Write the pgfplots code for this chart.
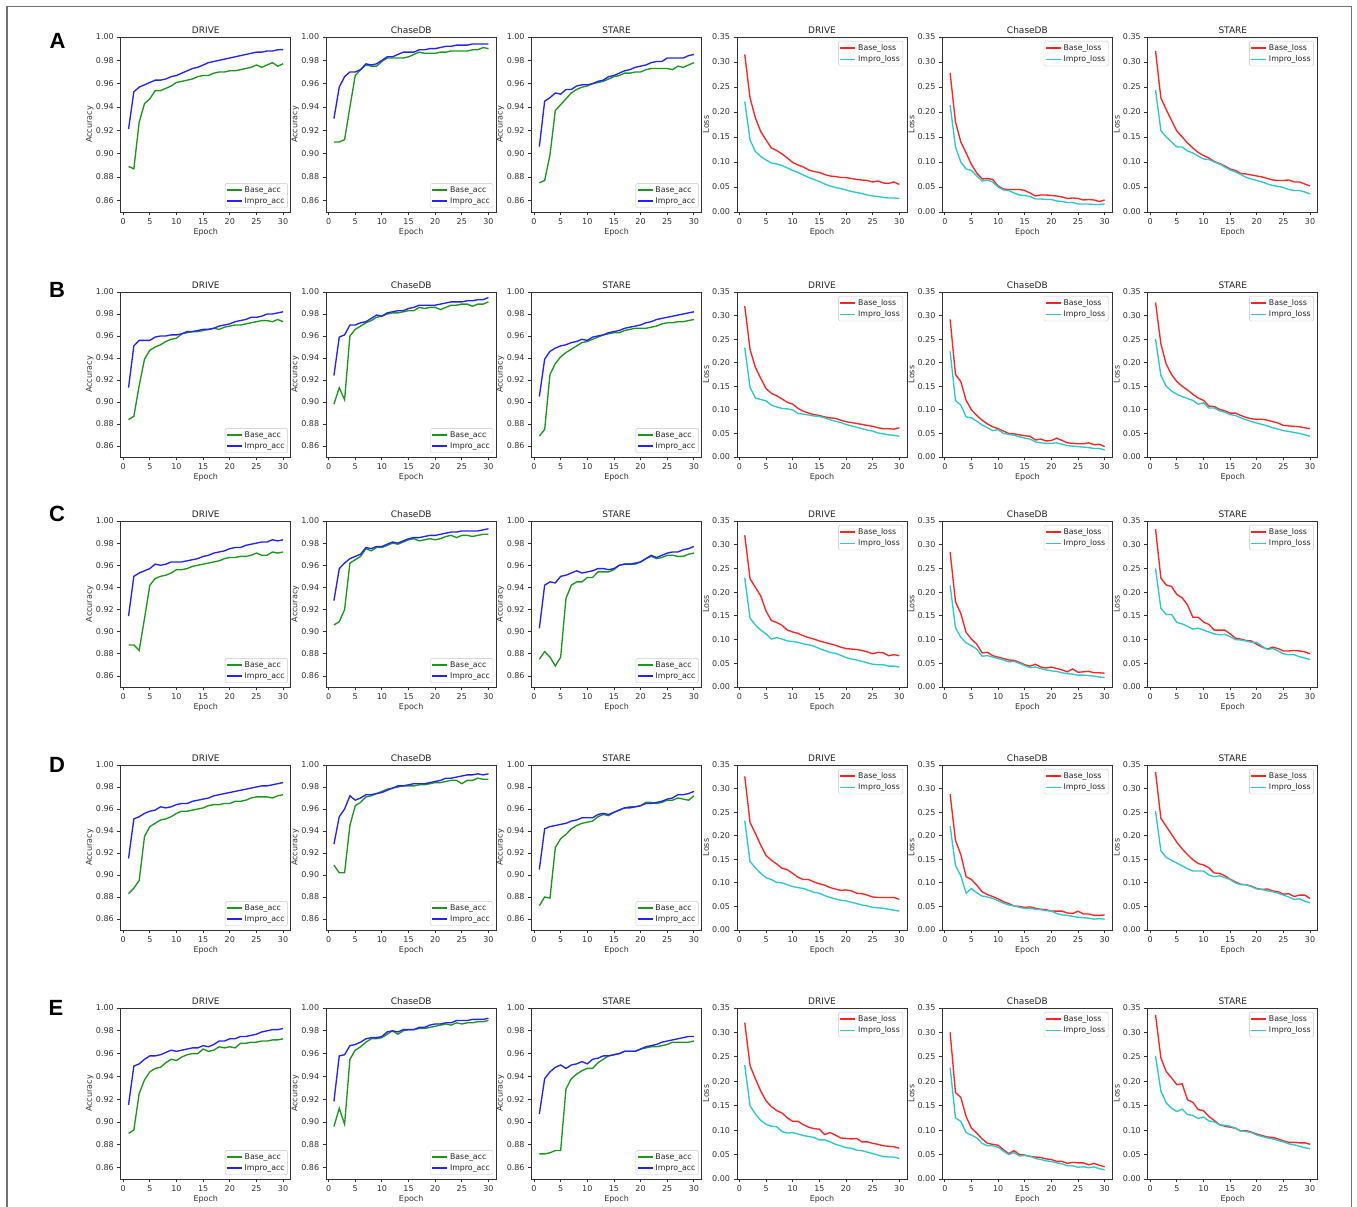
\documentclass[border=0pt]{standalone}
\usepackage{fontspec}
\setmainfont{DejaVu Sans}
\newfontfamily\letterfont{Liberation Sans}
\usepackage{pgfplots}
\usepackage{pgfplotstable}
\pgfplotsset{compat=1.18}

\definecolor{cgreen}{RGB}{30,150,30}
\definecolor{cblue}{RGB}{35,35,255}
\definecolor{cred}{RGB}{255,35,35}
\definecolor{ccyan}{RGB}{45,200,205}

% Columns: e, DRIVE base/impro, ChaseDB base/impro, STARE base/impro
\pgfplotstableread{
e Db Di Cb Ci Sb Si
1 0.889 0.921 0.910 0.930 0.875 0.906
2 0.887 0.953 0.910 0.957 0.877 0.945
3 0.927 0.957 0.912 0.966 0.899 0.948
4 0.943 0.959 0.940 0.970 0.937 0.952
5 0.947 0.961 0.967 0.970 0.942 0.951
6 0.954 0.963 0.972 0.972 0.947 0.955
7 0.954 0.963 0.976 0.977 0.952 0.955
8 0.956 0.964 0.975 0.976 0.955 0.958
9 0.958 0.966 0.975 0.977 0.957 0.959
10 0.961 0.967 0.979 0.980 0.958 0.959
11 0.962 0.969 0.982 0.983 0.960 0.960
12 0.963 0.971 0.982 0.983 0.961 0.962
13 0.964 0.973 0.982 0.985 0.962 0.963
14 0.966 0.974 0.982 0.987 0.964 0.966
15 0.967 0.976 0.983 0.987 0.966 0.967
16 0.967 0.978 0.985 0.987 0.967 0.969
17 0.969 0.979 0.987 0.989 0.969 0.971
18 0.970 0.980 0.986 0.989 0.969 0.972
19 0.970 0.981 0.986 0.990 0.970 0.974
20 0.971 0.982 0.986 0.990 0.970 0.975
21 0.971 0.983 0.987 0.991 0.972 0.976
22 0.972 0.984 0.987 0.992 0.973 0.978
23 0.973 0.985 0.988 0.992 0.973 0.979
24 0.974 0.986 0.988 0.993 0.973 0.979
25 0.976 0.987 0.988 0.993 0.973 0.982
26 0.974 0.987 0.988 0.993 0.972 0.982
27 0.976 0.988 0.989 0.994 0.975 0.982
28 0.978 0.988 0.989 0.994 0.974 0.982
29 0.975 0.989 0.991 0.994 0.976 0.984
30 0.977 0.989 0.990 0.994 0.978 0.985
}\accA
\pgfplotstableread{
e Db Di Cb Ci Sb Si
1 0.315 0.221 0.278 0.214 0.322 0.244
2 0.228 0.144 0.180 0.130 0.228 0.163
3 0.188 0.121 0.140 0.100 0.205 0.150
4 0.161 0.111 0.118 0.086 0.183 0.140
5 0.144 0.104 0.095 0.083 0.162 0.130
6 0.128 0.098 0.078 0.072 0.150 0.130
7 0.123 0.096 0.066 0.062 0.138 0.122
8 0.116 0.093 0.067 0.064 0.128 0.118
9 0.108 0.088 0.065 0.060 0.119 0.112
10 0.099 0.083 0.052 0.050 0.113 0.106
11 0.094 0.079 0.046 0.044 0.108 0.105
12 0.090 0.074 0.045 0.043 0.101 0.100
13 0.084 0.069 0.045 0.038 0.097 0.096
14 0.081 0.065 0.045 0.034 0.092 0.090
15 0.079 0.061 0.043 0.033 0.086 0.084
16 0.075 0.056 0.038 0.031 0.083 0.080
17 0.072 0.052 0.032 0.026 0.077 0.075
18 0.071 0.049 0.034 0.026 0.076 0.069
19 0.069 0.047 0.034 0.025 0.074 0.066
20 0.069 0.044 0.033 0.025 0.072 0.063
21 0.067 0.041 0.032 0.022 0.070 0.060
22 0.065 0.039 0.030 0.021 0.067 0.056
23 0.064 0.037 0.027 0.019 0.064 0.053
24 0.063 0.034 0.028 0.019 0.063 0.051
25 0.060 0.032 0.027 0.016 0.063 0.049
26 0.062 0.031 0.024 0.016 0.064 0.045
27 0.058 0.029 0.025 0.016 0.060 0.043
28 0.057 0.028 0.024 0.015 0.060 0.043
29 0.060 0.028 0.021 0.015 0.056 0.040
30 0.055 0.027 0.024 0.016 0.052 0.036
}\lossA
\pgfplotstableread{
e Db Di Cb Ci Sb Si
1 0.884 0.913 0.898 0.924 0.869 0.905
2 0.887 0.951 0.913 0.959 0.875 0.939
3 0.915 0.956 0.902 0.961 0.925 0.946
4 0.939 0.956 0.960 0.970 0.935 0.949
5 0.947 0.956 0.966 0.970 0.941 0.951
6 0.950 0.959 0.969 0.972 0.945 0.952
7 0.952 0.960 0.972 0.973 0.948 0.954
8 0.955 0.960 0.974 0.976 0.951 0.955
9 0.957 0.961 0.977 0.979 0.954 0.957
10 0.958 0.961 0.978 0.978 0.955 0.956
11 0.962 0.962 0.980 0.981 0.957 0.959
12 0.963 0.964 0.981 0.982 0.959 0.960
13 0.964 0.964 0.981 0.983 0.961 0.961
14 0.964 0.965 0.982 0.983 0.962 0.963
15 0.965 0.966 0.983 0.985 0.963 0.964
16 0.966 0.966 0.983 0.986 0.963 0.965
17 0.967 0.967 0.986 0.988 0.965 0.967
18 0.966 0.969 0.985 0.988 0.966 0.968
19 0.968 0.970 0.986 0.988 0.967 0.969
20 0.969 0.971 0.986 0.988 0.967 0.970
21 0.970 0.973 0.984 0.989 0.967 0.972
22 0.970 0.974 0.986 0.990 0.968 0.973
23 0.971 0.975 0.988 0.991 0.969 0.975
24 0.972 0.977 0.988 0.991 0.971 0.976
25 0.973 0.977 0.989 0.991 0.972 0.977
26 0.974 0.978 0.989 0.992 0.972 0.978
27 0.974 0.980 0.987 0.992 0.973 0.979
28 0.973 0.980 0.989 0.993 0.973 0.980
29 0.975 0.981 0.989 0.993 0.974 0.981
30 0.973 0.982 0.991 0.995 0.975 0.982
}\accB
\pgfplotstableread{
e Db Di Cb Ci Sb Si
1 0.320 0.232 0.292 0.224 0.328 0.250
2 0.228 0.148 0.175 0.120 0.240 0.173
3 0.190 0.125 0.160 0.110 0.197 0.150
4 0.167 0.122 0.120 0.085 0.175 0.140
5 0.145 0.119 0.100 0.083 0.160 0.133
6 0.135 0.110 0.088 0.076 0.150 0.128
7 0.130 0.106 0.078 0.068 0.142 0.124
8 0.123 0.103 0.070 0.062 0.133 0.120
9 0.116 0.102 0.064 0.056 0.125 0.112
10 0.112 0.100 0.060 0.058 0.120 0.115
11 0.103 0.092 0.055 0.050 0.108 0.104
12 0.097 0.091 0.050 0.048 0.107 0.104
13 0.093 0.089 0.049 0.046 0.101 0.098
14 0.090 0.087 0.047 0.043 0.098 0.095
15 0.088 0.086 0.045 0.040 0.093 0.090
16 0.085 0.083 0.044 0.038 0.093 0.088
17 0.083 0.079 0.036 0.032 0.088 0.083
18 0.082 0.076 0.038 0.030 0.084 0.079
19 0.078 0.073 0.034 0.029 0.081 0.075
20 0.075 0.069 0.035 0.029 0.080 0.072
21 0.073 0.066 0.040 0.030 0.080 0.069
22 0.071 0.063 0.035 0.027 0.078 0.066
23 0.069 0.060 0.030 0.024 0.075 0.062
24 0.067 0.057 0.029 0.023 0.072 0.059
25 0.065 0.055 0.028 0.022 0.067 0.056
26 0.062 0.051 0.028 0.021 0.066 0.054
27 0.060 0.049 0.030 0.020 0.065 0.052
28 0.060 0.047 0.026 0.018 0.064 0.050
29 0.059 0.046 0.027 0.018 0.062 0.047
30 0.062 0.044 0.022 0.015 0.060 0.044
}\lossB
\pgfplotstableread{
e Db Di Cb Ci Sb Si
1 0.888 0.914 0.906 0.928 0.875 0.903
2 0.888 0.950 0.909 0.957 0.882 0.942
3 0.883 0.953 0.920 0.962 0.877 0.945
4 0.912 0.955 0.962 0.966 0.869 0.944
5 0.942 0.957 0.965 0.968 0.877 0.950
6 0.948 0.961 0.968 0.970 0.930 0.951
7 0.950 0.960 0.975 0.976 0.942 0.953
8 0.951 0.961 0.973 0.975 0.945 0.955
9 0.953 0.963 0.976 0.977 0.945 0.953
10 0.956 0.963 0.976 0.977 0.949 0.954
11 0.956 0.963 0.978 0.979 0.949 0.955
12 0.957 0.964 0.980 0.981 0.954 0.957
13 0.959 0.965 0.979 0.980 0.954 0.957
14 0.960 0.966 0.981 0.982 0.954 0.956
15 0.961 0.968 0.983 0.984 0.956 0.957
16 0.962 0.969 0.984 0.985 0.960 0.960
17 0.963 0.971 0.982 0.985 0.961 0.961
18 0.964 0.972 0.983 0.986 0.961 0.961
19 0.966 0.973 0.984 0.987 0.961 0.962
20 0.967 0.975 0.983 0.987 0.963 0.963
21 0.967 0.976 0.984 0.988 0.966 0.966
22 0.968 0.976 0.986 0.989 0.968 0.969
23 0.968 0.978 0.987 0.990 0.966 0.967
24 0.969 0.979 0.985 0.990 0.967 0.969
25 0.971 0.980 0.987 0.991 0.969 0.971
26 0.969 0.981 0.987 0.991 0.969 0.972
27 0.969 0.981 0.986 0.991 0.968 0.972
28 0.972 0.983 0.987 0.991 0.968 0.974
29 0.971 0.982 0.988 0.992 0.970 0.975
30 0.972 0.983 0.988 0.993 0.971 0.977
}\accC
\pgfplotstableread{
e Db Di Cb Ci Sb Si
1 0.320 0.230 0.285 0.214 0.333 0.250
2 0.228 0.145 0.180 0.125 0.230 0.166
3 0.210 0.131 0.155 0.105 0.215 0.153
4 0.192 0.120 0.115 0.093 0.212 0.153
5 0.160 0.112 0.101 0.087 0.195 0.136
6 0.140 0.101 0.090 0.080 0.188 0.133
7 0.136 0.104 0.072 0.065 0.173 0.128
8 0.130 0.101 0.073 0.066 0.147 0.122
9 0.120 0.097 0.066 0.063 0.147 0.124
10 0.116 0.096 0.063 0.060 0.137 0.120
11 0.113 0.094 0.060 0.057 0.132 0.116
12 0.108 0.091 0.057 0.053 0.120 0.112
13 0.104 0.089 0.056 0.054 0.120 0.110
14 0.101 0.086 0.052 0.050 0.120 0.111
15 0.097 0.081 0.047 0.045 0.112 0.106
16 0.094 0.077 0.044 0.041 0.103 0.100
17 0.091 0.073 0.048 0.042 0.101 0.099
18 0.088 0.071 0.042 0.039 0.098 0.097
19 0.084 0.067 0.040 0.036 0.097 0.094
20 0.081 0.062 0.042 0.034 0.090 0.094
21 0.080 0.059 0.039 0.033 0.084 0.086
22 0.079 0.057 0.036 0.030 0.080 0.079
23 0.077 0.054 0.032 0.028 0.084 0.081
24 0.074 0.051 0.038 0.027 0.081 0.076
25 0.070 0.048 0.031 0.025 0.076 0.070
26 0.073 0.047 0.032 0.025 0.076 0.068
27 0.072 0.047 0.033 0.024 0.077 0.068
28 0.066 0.044 0.030 0.023 0.076 0.064
29 0.068 0.044 0.030 0.021 0.074 0.061
30 0.066 0.042 0.029 0.020 0.070 0.058
}\lossC
\pgfplotstableread{
e Db Di Cb Ci Sb Si
1 0.883 0.915 0.909 0.928 0.872 0.905
2 0.888 0.951 0.902 0.953 0.880 0.942
3 0.895 0.953 0.902 0.960 0.879 0.944
4 0.935 0.956 0.945 0.972 0.925 0.945
5 0.944 0.958 0.963 0.968 0.933 0.946
6 0.947 0.959 0.966 0.970 0.937 0.947
7 0.950 0.962 0.971 0.973 0.942 0.949
8 0.951 0.961 0.972 0.973 0.945 0.950
9 0.953 0.962 0.974 0.974 0.947 0.952
10 0.956 0.964 0.976 0.975 0.948 0.952
11 0.958 0.965 0.978 0.977 0.949 0.952
12 0.958 0.965 0.979 0.979 0.953 0.955
13 0.959 0.967 0.980 0.981 0.955 0.956
14 0.960 0.968 0.981 0.981 0.954 0.955
15 0.961 0.969 0.981 0.982 0.957 0.957
16 0.963 0.970 0.981 0.983 0.959 0.959
17 0.964 0.972 0.982 0.983 0.961 0.961
18 0.964 0.973 0.982 0.983 0.962 0.961
19 0.965 0.974 0.983 0.984 0.962 0.962
20 0.965 0.975 0.984 0.985 0.963 0.963
21 0.967 0.976 0.984 0.986 0.966 0.965
22 0.967 0.977 0.985 0.988 0.966 0.965
23 0.968 0.978 0.986 0.988 0.965 0.966
24 0.970 0.979 0.986 0.989 0.966 0.967
25 0.971 0.980 0.983 0.990 0.968 0.969
26 0.971 0.981 0.986 0.991 0.968 0.970
27 0.971 0.981 0.986 0.991 0.970 0.973
28 0.970 0.982 0.988 0.992 0.969 0.973
29 0.972 0.983 0.987 0.991 0.968 0.974
30 0.973 0.984 0.987 0.992 0.972 0.976
}\accD
\pgfplotstableread{
e Db Di Cb Ci Sb Si
1 0.326 0.232 0.288 0.220 0.335 0.252
2 0.228 0.145 0.190 0.137 0.237 0.168
3 0.205 0.132 0.160 0.115 0.220 0.154
4 0.180 0.120 0.113 0.078 0.203 0.148
5 0.158 0.111 0.107 0.088 0.186 0.142
6 0.148 0.107 0.095 0.079 0.172 0.136
7 0.140 0.101 0.081 0.072 0.160 0.130
8 0.131 0.100 0.075 0.070 0.149 0.125
9 0.128 0.096 0.071 0.067 0.141 0.125
10 0.120 0.092 0.066 0.062 0.138 0.125
11 0.112 0.090 0.060 0.057 0.132 0.117
12 0.107 0.088 0.056 0.053 0.121 0.113
13 0.107 0.084 0.051 0.051 0.120 0.115
14 0.102 0.080 0.050 0.048 0.115 0.111
15 0.098 0.078 0.048 0.046 0.108 0.107
16 0.095 0.073 0.049 0.046 0.102 0.100
17 0.090 0.069 0.046 0.044 0.097 0.096
18 0.087 0.066 0.044 0.043 0.096 0.096
19 0.084 0.063 0.043 0.041 0.093 0.092
20 0.085 0.062 0.040 0.040 0.088 0.087
21 0.083 0.059 0.040 0.035 0.086 0.086
22 0.078 0.056 0.040 0.032 0.087 0.083
23 0.077 0.053 0.036 0.031 0.083 0.081
24 0.074 0.051 0.035 0.029 0.081 0.078
25 0.070 0.048 0.040 0.027 0.076 0.074
26 0.069 0.047 0.034 0.026 0.077 0.070
27 0.069 0.046 0.034 0.025 0.071 0.065
28 0.069 0.044 0.031 0.023 0.074 0.066
29 0.069 0.042 0.031 0.024 0.074 0.061
30 0.065 0.040 0.032 0.023 0.067 0.058
}\lossD
\pgfplotstableread{
e Db Di Cb Ci Sb Si
1 0.890 0.915 0.896 0.918 0.872 0.907
2 0.893 0.949 0.912 0.958 0.872 0.938
3 0.925 0.951 0.898 0.959 0.873 0.944
4 0.937 0.955 0.955 0.967 0.875 0.948
5 0.944 0.958 0.963 0.968 0.875 0.950
6 0.947 0.958 0.966 0.970 0.929 0.947
7 0.948 0.959 0.970 0.973 0.938 0.950
8 0.952 0.961 0.973 0.974 0.942 0.951
9 0.955 0.963 0.973 0.974 0.945 0.953
10 0.954 0.962 0.974 0.975 0.947 0.951
11 0.957 0.963 0.977 0.979 0.947 0.955
12 0.959 0.964 0.980 0.980 0.952 0.956
13 0.960 0.965 0.977 0.979 0.955 0.958
14 0.960 0.965 0.980 0.981 0.958 0.958
15 0.964 0.967 0.981 0.981 0.959 0.959
16 0.962 0.966 0.981 0.981 0.960 0.960
17 0.963 0.968 0.982 0.983 0.962 0.962
18 0.966 0.971 0.982 0.983 0.962 0.962
19 0.965 0.971 0.983 0.985 0.962 0.962
20 0.966 0.973 0.984 0.986 0.964 0.964
21 0.965 0.973 0.985 0.986 0.965 0.966
22 0.969 0.975 0.986 0.987 0.966 0.967
23 0.969 0.975 0.985 0.987 0.966 0.968
24 0.970 0.976 0.987 0.989 0.967 0.970
25 0.970 0.977 0.986 0.989 0.968 0.971
26 0.971 0.979 0.987 0.989 0.970 0.972
27 0.971 0.980 0.987 0.990 0.970 0.973
28 0.972 0.981 0.988 0.990 0.970 0.974
29 0.972 0.981 0.988 0.990 0.970 0.975
30 0.973 0.982 0.989 0.991 0.971 0.975
}\accE
\pgfplotstableread{
e Db Di Cb Ci Sb Si
1 0.320 0.233 0.300 0.228 0.336 0.252
2 0.232 0.150 0.177 0.125 0.248 0.180
3 0.205 0.133 0.167 0.118 0.220 0.156
4 0.180 0.120 0.128 0.095 0.207 0.145
5 0.160 0.112 0.104 0.090 0.193 0.138
6 0.148 0.108 0.094 0.084 0.195 0.143
7 0.140 0.107 0.082 0.073 0.162 0.132
8 0.135 0.097 0.073 0.068 0.157 0.130
9 0.125 0.094 0.071 0.068 0.142 0.124
10 0.118 0.095 0.069 0.065 0.140 0.127
11 0.118 0.092 0.060 0.057 0.128 0.119
12 0.111 0.089 0.052 0.050 0.120 0.117
13 0.106 0.087 0.058 0.054 0.111 0.111
14 0.103 0.085 0.050 0.047 0.108 0.110
15 0.102 0.080 0.049 0.048 0.106 0.108
16 0.091 0.080 0.046 0.047 0.104 0.104
17 0.095 0.076 0.045 0.042 0.098 0.098
18 0.090 0.071 0.044 0.040 0.099 0.097
19 0.084 0.068 0.041 0.037 0.096 0.095
20 0.083 0.064 0.040 0.036 0.092 0.090
21 0.082 0.063 0.036 0.033 0.089 0.087
22 0.083 0.059 0.036 0.031 0.086 0.084
23 0.076 0.058 0.032 0.027 0.085 0.082
24 0.076 0.055 0.034 0.027 0.082 0.079
25 0.073 0.052 0.033 0.024 0.078 0.076
26 0.071 0.049 0.033 0.025 0.075 0.072
27 0.068 0.046 0.029 0.023 0.075 0.070
28 0.067 0.045 0.032 0.025 0.074 0.067
29 0.066 0.045 0.028 0.021 0.074 0.064
30 0.063 0.042 0.025 0.019 0.071 0.062
}\lossE

\newcommand{\smallfont}{\fontsize{8}{9}\selectfont}

\pgfplotsset{
  panel/.style={
    scale only axis, width=170pt, anchor=south west,
    xmin=-0.45, xmax=31.45, xtick={0,5,10,15,20,25,30},
    axis line style={draw=black!80, line width=0.9pt},
    tick align=outside, xtick pos=left, ytick pos=left,
    major tick length=3.5pt,
    every tick/.style={draw=black!80, line width=0.8pt},
    tick label style={font=\smallfont, text=black!80},
    /pgf/number format/assume math mode=true,
    scaled y ticks=false,
    title style={font=\fontsize{9}{10}\selectfont, text=black!85,
      at={(0.5,1)}, anchor=south, inner sep=0pt, yshift=-2.5pt},
    xlabel={Epoch},
    xlabel style={font=\smallfont, text=black!80,
      at={([yshift=-20.5pt]axis description cs:0.5,0)}, anchor=center},
    ylabel style={font=\smallfont, text=black!80,
      at={([xshift=-31pt]axis description cs:0,0.5)}, anchor=center},
    legend cell align=left,
    legend style={font=\fontsize{7.8}{8.8}\selectfont, text=black!85, draw=black!22,
      rounded corners=1.5pt, fill=white, inner sep=1pt,
      nodes={inner sep=2pt}},
    legend image code/.code={\draw[#1, line width=1.6pt] (0pt,0pt) -- (15pt,0pt);},
  },
  accaxis/.style={panel, ymin=0.85, ymax=1.0,
    ytick={0.86,0.88,0.90,0.92,0.94,0.96,0.98,1.00},
    yticklabel style={/pgf/number format/.cd, fixed, fixed zerofill, precision=2},
    ylabel={Accuracy},
    legend style={at={(1,0)}, anchor=south east, xshift=-3pt, yshift=4pt}},
  lossaxis/.style={panel, ymin=0, ymax=0.35,
    ytick={0,0.05,0.10,0.15,0.20,0.25,0.30,0.35},
    yticklabel style={/pgf/number format/.cd, fixed, fixed zerofill, precision=2},
    ylabel={Loss},
    legend style={at={(1,1)}, anchor=north east, xshift=-4pt, yshift=-4pt}},
  baseacc/.style={draw=cgreen, line width=1.35pt},
  improacc/.style={draw=cblue, line width=1.35pt},
  baseloss/.style={draw=cred, line width=1.35pt},
  improloss/.style={draw=ccyan, line width=1.35pt},
}

% #1 left, #2 bottom, #3 height, #4 title, #5 table, #6 dataset key
\newcommand{\AccPanel}[6]{%
  \begin{axis}[accaxis, at={(#1pt,#2pt)}, height=#3pt, title={#4}]
    \addplot[baseacc] table[x=e, y=#6b] {#5};
    \addplot[improacc] table[x=e, y=#6i] {#5};
    \legend{Base\_acc, Impro\_acc}
  \end{axis}}
\newcommand{\LossPanel}[6]{%
  \begin{axis}[lossaxis, at={(#1pt,#2pt)}, height=#3pt, title={#4}]
    \addplot[baseloss] table[x=e, y=#6b] {#5};
    \addplot[improloss] table[x=e, y=#6i] {#5};
    \legend{Base\_loss, Impro\_loss}
  \end{axis}}

% one row of six panels: #1 bottom, #2 height, #3 acc table, #4 loss table
\newcommand{\PanelRow}[4]{%
  \AccPanel{120.8}{#1}{#2}{DRIVE}{#3}{D}
  \AccPanel{326.2}{#1}{#2}{ChaseDB}{#3}{C}
  \AccPanel{531.6}{#1}{#2}{STARE}{#3}{S}
  \LossPanel{737.0}{#1}{#2}{DRIVE}{#4}{D}
  \LossPanel{942.4}{#1}{#2}{ChaseDB}{#4}{C}
  \LossPanel{1147.8}{#1}{#2}{STARE}{#4}{S}}

\begin{document}
\begin{tikzpicture}
  \path[use as bounding box] (0pt,0pt) rectangle (1357pt,1207pt);
  \draw[black!55, line width=1.4pt] (7pt,-5pt) -- (7pt,1200.5pt) -- (1351.5pt,1200.5pt) -- (1351.5pt,-5pt);

  \PanelRow{995}{175}{\accA}{\lossA}
  \PanelRow{750}{165}{\accB}{\lossB}
  \PanelRow{520}{166}{\accC}{\lossC}
  \PanelRow{277}{165}{\accD}{\lossD}
  \PanelRow{28}{171}{\accE}{\lossE}

  \begin{scope}[every node/.style={font=\letterfont\bfseries\fontsize{22}{24}\selectfont, anchor=center}]
    \node at (57.5pt,1166pt) {A};
    \node at (57pt,917pt) {B};
    \node at (57pt,693pt) {C};
    \node at (57pt,442pt) {D};
    \node at (56pt,199pt) {E};
  \end{scope}
\end{tikzpicture}
\end{document}
